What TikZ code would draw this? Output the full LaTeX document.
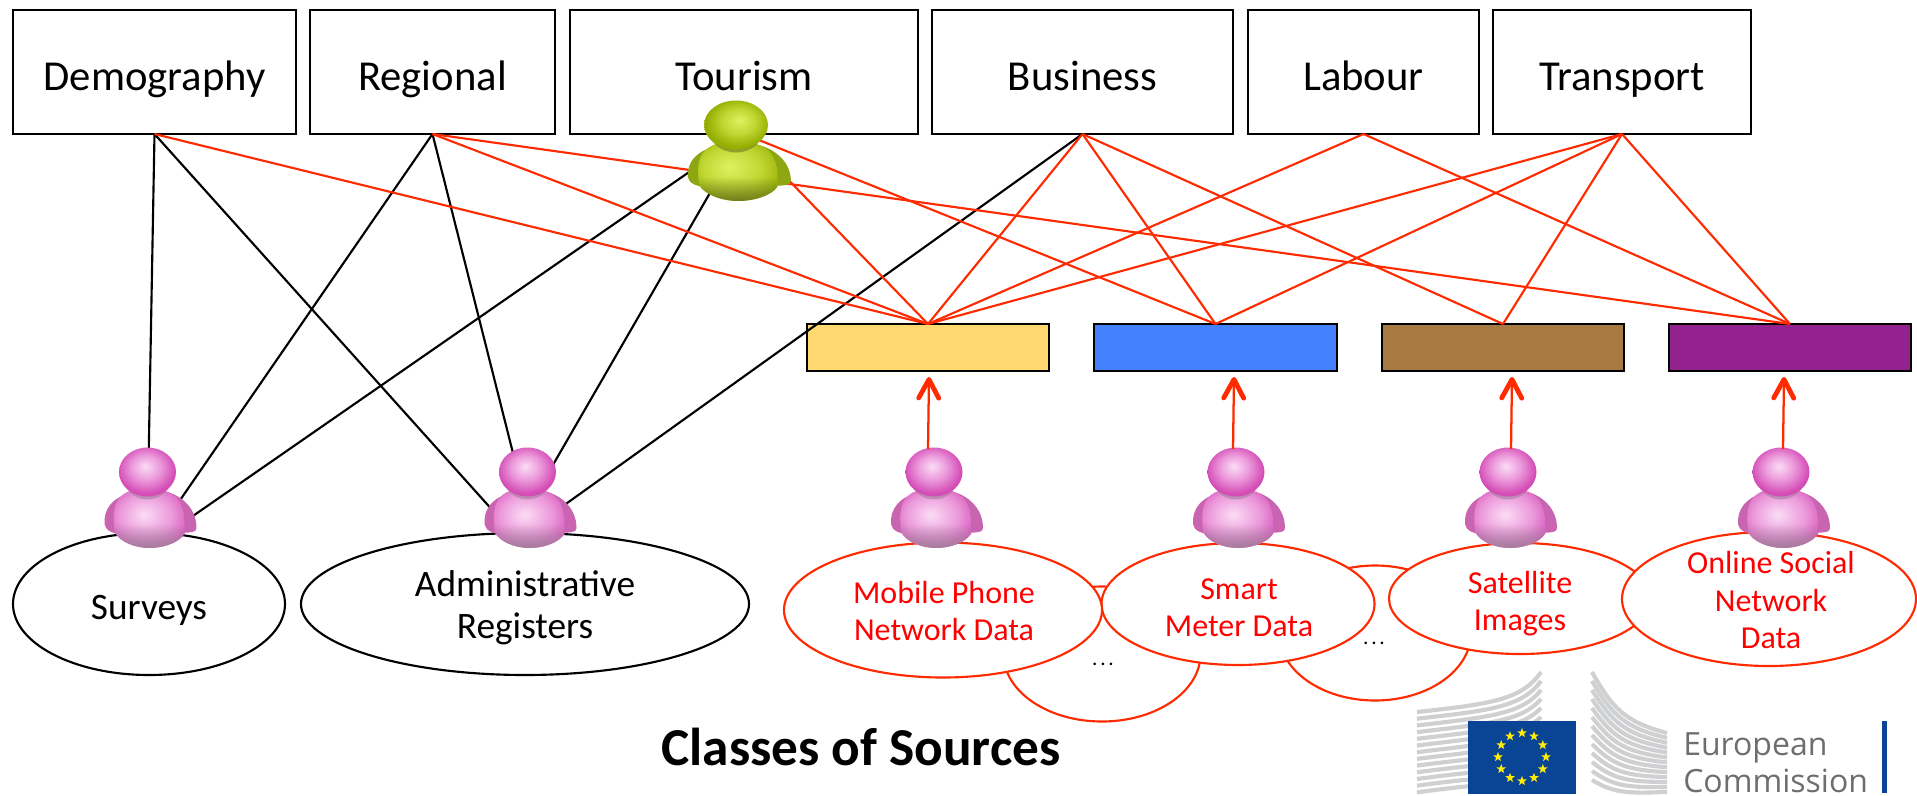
\documentclass[tikz,border=0pt]{standalone}
\usepackage{fontspec}
\setmainfont{Carlito}
\newfontfamily\logofont{Open Sans}
\usetikzlibrary{shapes.geometric,arrows.meta,fadings}
\definecolor{redline}{HTML}{FF2A00}
\definecolor{redtext}{HTML}{FF0000}
\definecolor{cyellow}{HTML}{FFD970}
\definecolor{cblue}{HTML}{4481FF}
\definecolor{cbrown}{HTML}{A87A43}
\definecolor{cpurple}{HTML}{93218E}
\definecolor{pinkA}{HTML}{FBDDF6}
\definecolor{pinkB}{HTML}{EB98DA}
\definecolor{pinkC}{HTML}{D44CB6}
\definecolor{pinkarm}{HTML}{C864B0}
\definecolor{pinkshadow}{HTML}{A08098}
\definecolor{greenA}{HTML}{DDF260}
\definecolor{greenB}{HTML}{C0D632}
\definecolor{greenC}{HTML}{93AE00}
\definecolor{greenarm}{HTML}{8EA612}
\definecolor{greenshadow}{HTML}{6E7A20}
\definecolor{logogrey}{HTML}{6D6E71}
\definecolor{stripe}{HTML}{CFD0D2}
\definecolor{flagblue}{HTML}{0A4595}
\definecolor{staryellow}{HTML}{FFED00}
\pgfdeclareradialshading{pinkhead}{\pgfpoint{-2bp}{6bp}}{color(0bp)=(pinkA);color(13bp)=(pinkB);color(25bp)=(pinkC);color(50bp)=(pinkC)}
\pgfdeclareradialshading{pinkbody}{\pgfpoint{-3bp}{3bp}}{color(0bp)=(pinkA);color(18bp)=(pinkB);color(32bp)=(pinkC);color(50bp)=(pinkC)}
\pgfdeclareradialshading{greenhead}{\pgfpoint{3bp}{5bp}}{color(0bp)=(greenA);color(13bp)=(greenB);color(25bp)=(greenC);color(50bp)=(greenC)}
\pgfdeclareradialshading{greenbody}{\pgfpoint{-5bp}{4bp}}{color(0bp)=(greenA);color(18bp)=(greenB);color(32bp)=(greenC);color(50bp)=(greenC)}
\def\u{.75pt}
\def\torso{(-33,60) .. controls (-35,38) and (-36,17) .. (0,16) .. controls (36,17) and (38,38) .. (37,62) .. controls (30,72) and (14,76) .. (2,76) .. controls (-12,76) and (-28,70) .. (-33,60) -- cycle}
\tikzset{
  topbox/.style={draw=black,line width=1.5pt,fill=white,inner sep=0,outer sep=0,
    minimum height=124*\u,font=\fontsize{32}{38}\selectfont,text height=27pt,text depth=0pt},
  classbox/.style={draw=black,line width=2.2pt,inner sep=0,outer sep=0,minimum height=47*\u},
  blackell/.style={ellipse,draw=black,line width=1.6pt,fill=white,inner sep=0},
  redell/.style={ellipse,draw=redline,line width=1.6pt,fill=white,inner sep=0},
  blacktext/.style={align=center,font=\fontsize{28}{31.5}\selectfont},
  redlabel/.style={align=center,text=redtext,font=\fontsize{24}{27.8}\selectfont},
  blackline/.style={draw=black,line width=1.6pt},
  redlink/.style={draw=redline,line width=1.6pt},
  feed/.style={draw=redline,line width=1.7pt,-{Straight Barb[length=14pt,width=15pt,line width=3.6pt,round]}},
  dotlabel/.style={font=\fontsize{16}{18}\selectfont},
  pics/person/.style={code={
    \fill[#1arm] (-12,20) .. controls (-36,24) and (-44,38) .. (-43,52) .. controls (-42,58) and (-36,62) .. (-24,62) -- cycle;
    \fill[#1arm] (12,18) .. controls (36,22) and (49,38) .. (49,56) .. controls (49,60) and (45,61) .. (24,61) -- cycle;
    \shade[shading=#1body] \torso;
    \begin{scope}
      \clip \torso;
      \fill[#1shadow,path fading=north] (-40,52) rectangle (40,78);
    \end{scope}
    \fill[#1shadow,opacity=.6] (0,3) ellipse [x radius=25,y radius=24.5];
    \shade[shading=#1head] (0,0) ellipse [x radius=28.5,y radius=24.5];
    \coordinate (-top) at (0,-24.5);
  }}
}
\begin{document}
\begin{tikzpicture}[x=.75pt,y=-.75pt]
\useasboundingbox (0,0) rectangle (1917,796);
% top boxes
\node[topbox,minimum width=283*\u] (demo) at (154.5,72) {Demography};
\node[topbox,minimum width=245*\u] (regional) at (432.5,72) {Regional};
\node[topbox,minimum width=348*\u] (tourism) at (744,72) {Tourism};
\node[topbox,minimum width=301*\u] (business) at (1082.5,72) {Business};
\node[topbox,minimum width=231*\u] (labour) at (1363.5,72) {Labour};
\node[topbox,minimum width=258*\u] (transport) at (1622,72) {Transport};
% class boxes
\node[classbox,fill=cyellow,minimum width=242*\u] (cy) at (928,347.5) {};
\node[classbox,fill=cblue,minimum width=243*\u] (cb) at (1215.5,347.5) {};
\node[classbox,fill=cbrown,minimum width=242*\u] (cw) at (1503,347.5) {};
\node[classbox,fill=cpurple,minimum width=242*\u] (cp) at (1790,347.5) {};
% source ellipses
\node[blackell,minimum width=272*\u,minimum height=142*\u] (surveys) at (149,604) {};
\node[blackell,minimum width=448*\u,minimum height=142*\u] (admin) at (525,604) {};
\node[redell,minimum width=197*\u,minimum height=135*\u] (hidA) at (1102,654) {};
\node[redell,minimum width=192*\u,minimum height=135*\u] (hidB) at (1375,633) {};
\node[redell,minimum width=273*\u,minimum height=122*\u] (smart) at (1238,604) {};
\node[redell,minimum width=318*\u,minimum height=135*\u] (mobile) at (943,610) {};
\node[redell,minimum width=262*\u,minimum height=111*\u] (sat) at (1520,598.5) {};
\node[redell,minimum width=294*\u,minimum height=134*\u] (online) at (1769,599) {};
% line ends hidden behind the people
\coordinate (sA) at (148.5,465);
\coordinate (sB) at (176,506);
\coordinate (sC) at (190,518);
\coordinate (aA) at (495,513);
\coordinate (aB) at (516,465);
\coordinate (aC) at (550,470);
\coordinate (aD) at (563,506);
% black links
\draw[blackline] (demo.south) -- (sA);
\draw[blackline] (demo.south) -- (aA);
\draw[blackline] (regional.south) -- (sB);
\draw[blackline] (regional.south) -- (aB);
\draw[blackline] (tourism.south) -- (sC);
\draw[blackline] (tourism.south) -- (aC);
\draw[blackline] (business.south) -- (aD);
% red links
\draw[redlink] (demo.south) -- (cy.north);
\draw[redlink] (regional.south) -- (cy.north);
\draw[redlink] (regional.south) -- (cp.north);
\draw[redlink] (tourism.south) -- (cy.north);
\draw[redlink] (tourism.south) -- (cb.north);
\draw[redlink] (business.south) -- (cy.north);
\draw[redlink] (business.south) -- (cb.north);
\draw[redlink] (business.south) -- (cw.north);
\draw[redlink] (labour.south) -- (cy.north);
\draw[redlink] (labour.south) -- (cp.north);
\draw[redlink] (transport.south) -- (cy.north);
\draw[redlink] (transport.south) -- (cb.north);
\draw[redlink] (transport.south) -- (cw.north);
\draw[redlink] (transport.south) -- (cp.north);
% people
\pic (pS) at (147.5,472) {person=pink};
\pic (pA) at (527.5,472) {person=pink};
\pic (pM) at (934,472) {person=pink};
\pic (pT) at (1236,472) {person=pink};
\pic (pI) at (1508,472) {person=pink};
\pic (pO) at (1781,472) {person=pink};
\pic[xscale=1.12] (pG) at (736,125) {person=green};
% arrows
\coordinate (tipM) at (929,377);
\coordinate (tipT) at (1234,377);
\coordinate (tipI) at (1512,377);
\coordinate (tipO) at (1784,377);
\coordinate (tailM) at (928,449);
\coordinate (tailT) at (1233,449);
\coordinate (tailI) at (1511,449);
\coordinate (tailO) at (1783,449);
\draw[feed] (tailM) -- (tipM);
\draw[feed] (tailT) -- (tipT);
\draw[feed] (tailI) -- (tipI);
\draw[feed] (tailO) -- (tipO);
% texts
\node[blacktext] (tS) at (149,610) {Surveys};
\node[blacktext] (tA) at (525,608) {Administrative\\Registers};
\node[redlabel] (tM) at (944,611) {Mobile Phone\\Network Data};
\node[redlabel] (tT) at (1239,608) {Smart\\Meter Data};
\node[redlabel] (tI) at (1520,604) {Satellite\\Images};
\node[redlabel] (tO) at (1771,600) {Online Social\\Network\\Data};
\node[dotlabel] (dotsA) at (1103,664) {.\hspace{.13em}.\hspace{.13em}.};
\node[dotlabel] (dotsB) at (1374,643) {.\hspace{.13em}.\hspace{.13em}.};
\node[font=\fontsize{40}{48}\selectfont\bfseries] (title) at (861,747) {Classes of Sources};
% logo
\foreach \k in {0,...,12}{
  \draw[stripe,line width=3.1pt] (1417,{712+6.7*\k}) .. controls (1490,{704+6.5*\k}) and (1522,{700+7*\k}) .. (1541,{672+9*\k});
}
\foreach \k in {0,...,12}{
  \draw[stripe,line width=3.1pt] (1592,{672+9*\k}) .. controls (1612,{708+7*\k}) and (1625,{722+6*\k}) .. (1667,{733+4.9*\k});
}
\node[fill=flagblue,inner sep=0,minimum width=108*\u,minimum height=73*\u] (flag) at (1522,757.5) {};
\foreach \a in {0,30,...,330}{
  \node[star,star points=5,star point ratio=2.4,fill=staryellow,inner sep=0,minimum size=10*\u] (st\a) at ({1522+24*cos(\a)},{757+24*sin(\a)}) {};
}
\node[font=\logofont\fontsize{24}{24}\selectfont,text=logogrey,anchor=base west,inner sep=0] (eu) at (1683,755) {European};
\node[font=\logofont\fontsize{24}{24}\selectfont,text=logogrey,anchor=base west,inner sep=0] (comm) at (1683,792) {Commission};
\node[fill=flagblue,inner sep=0,minimum width=5*\u,minimum height=72*\u] (bar) at (1884.5,757) {};
\end{tikzpicture}
\end{document}
